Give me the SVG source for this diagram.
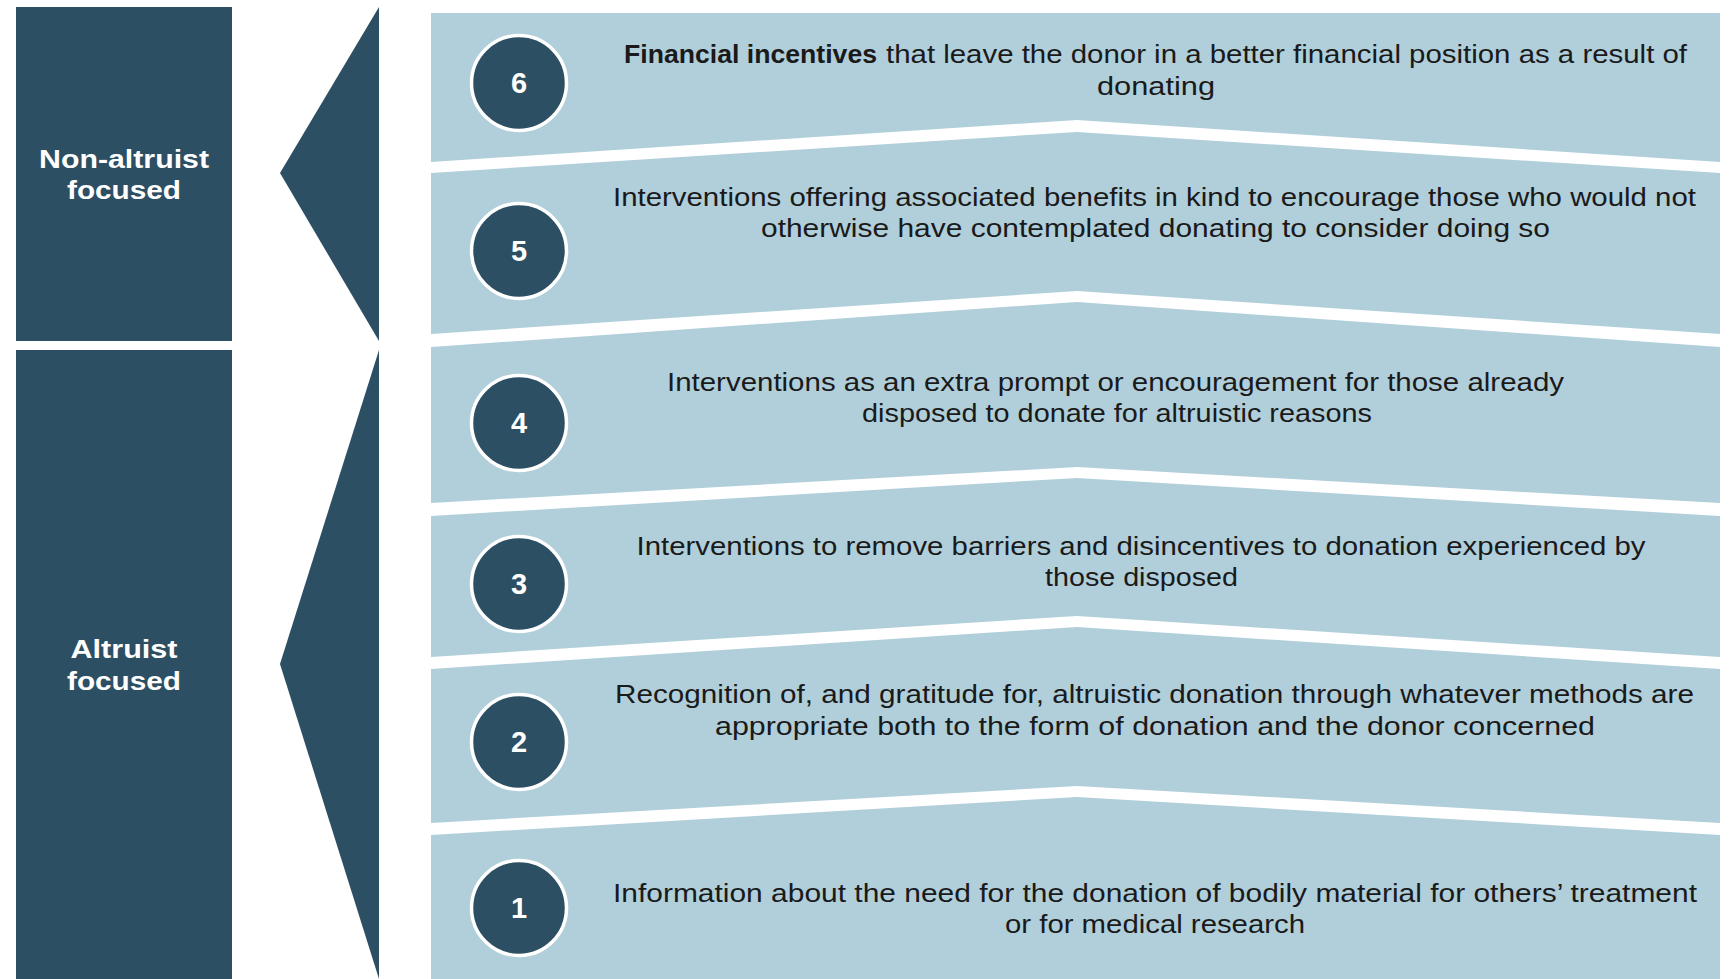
<svg xmlns="http://www.w3.org/2000/svg" width="1732" height="979" viewBox="0 0 1732 979">
<style>
.dark{fill:#2c4f64}
.band{fill:#b0cfdb}
.lbl{font-family:"Liberation Sans",Arial,sans-serif;font-weight:bold;font-size:26px;fill:#ffffff;text-anchor:middle}
.num{font-family:"Liberation Sans",Arial,sans-serif;font-weight:bold;font-size:29px;fill:#ffffff;text-anchor:middle}
.circ{fill:#2c4f64;stroke:#ffffff;stroke-width:3.5}
.txt{font-family:"Liberation Sans",Arial,sans-serif;font-size:25.5px;fill:#1a1a1a}
.mid{text-anchor:middle}
</style>
<rect width="1732" height="979" fill="#ffffff"/>
<g id="group-nonaltruist">
<rect class="dark" x="16" y="7" width="216" height="334"/>
<polygon class="dark" points="379,7 280,173 379,341"/>
<text class="lbl" x="124" y="168" textLength="170" lengthAdjust="spacingAndGlyphs">Non-altruist</text>
<text class="lbl" x="124" y="199" textLength="114" lengthAdjust="spacingAndGlyphs">focused</text>
</g>
<g id="group-altruist">
<rect class="dark" x="16" y="350" width="216" height="629"/>
<polygon class="dark" points="379,350 280,664 379,979"/>
<text class="lbl" x="124" y="658" textLength="107" lengthAdjust="spacingAndGlyphs">Altruist</text>
<text class="lbl" x="124" y="690" textLength="114" lengthAdjust="spacingAndGlyphs">focused</text>
</g>
<g id="level-6">
<polygon class="band" points="431,13 1720,13 1720,162 1077,120 431,162"/>
<circle class="circ" cx="519" cy="83" r="47.5"/>
<text class="num" x="519" y="93">6</text>
<text class="txt" x="624" y="63" font-weight="bold" textLength="253" lengthAdjust="spacingAndGlyphs">Financial incentives</text>
<text class="txt" x="886" y="63" textLength="801" lengthAdjust="spacingAndGlyphs">that leave the donor in a better financial position as a result of</text>
<text class="txt mid" x="1156" y="95" textLength="118" lengthAdjust="spacingAndGlyphs">donating</text>
</g>
<g id="level-5">
<polygon class="band" points="431,173 1077,132 1720,173 1720,334 1077,291 431,334"/>
<circle class="circ" cx="519" cy="251" r="47.5"/>
<text class="num" x="519" y="261">5</text>
<text class="txt mid" x="1154.5" y="206" textLength="1083" lengthAdjust="spacingAndGlyphs">Interventions offering associated benefits in kind to encourage those who would not</text>
<text class="txt mid" x="1155.5" y="237" textLength="789" lengthAdjust="spacingAndGlyphs">otherwise have contemplated donating to consider doing so</text>
</g>
<g id="level-4">
<polygon class="band" points="431,347 1077,302 1720,347 1720,503 1077,467 431,503"/>
<circle class="circ" cx="519" cy="423" r="47.5"/>
<text class="num" x="519" y="433">4</text>
<text class="txt mid" x="1115.5" y="391" textLength="897" lengthAdjust="spacingAndGlyphs">Interventions as an extra prompt or encouragement for those already</text>
<text class="txt mid" x="1117" y="422" textLength="510" lengthAdjust="spacingAndGlyphs">disposed to donate for altruistic reasons</text>
</g>
<g id="level-3">
<polygon class="band" points="431,516 1077,478 1720,516 1720,657 1077,616 431,657"/>
<circle class="circ" cx="519" cy="584" r="47.5"/>
<text class="num" x="519" y="594">3</text>
<text class="txt mid" x="1141" y="555" textLength="1009" lengthAdjust="spacingAndGlyphs">Interventions to remove barriers and disincentives to donation experienced by</text>
<text class="txt mid" x="1141.5" y="586" textLength="193" lengthAdjust="spacingAndGlyphs">those disposed</text>
</g>
<g id="level-2">
<polygon class="band" points="431,669 1077,627 1720,669 1720,823 1077,786 431,823"/>
<circle class="circ" cx="519" cy="742" r="47.5"/>
<text class="num" x="519" y="752">2</text>
<text class="txt mid" x="1154.5" y="703" textLength="1079" lengthAdjust="spacingAndGlyphs">Recognition of, and gratitude for, altruistic donation through whatever methods are</text>
<text class="txt mid" x="1155" y="735" textLength="880" lengthAdjust="spacingAndGlyphs">appropriate both to the form of donation and the donor concerned</text>
</g>
<g id="level-1">
<polygon class="band" points="431,835 1077,797 1720,835 1720,979 431,979"/>
<circle class="circ" cx="519" cy="908" r="47.5"/>
<text class="num" x="519" y="918">1</text>
<text class="txt mid" x="1155" y="902" textLength="1084" lengthAdjust="spacingAndGlyphs">Information about the need for the donation of bodily material for others’ treatment</text>
<text class="txt mid" x="1155" y="933" textLength="300" lengthAdjust="spacingAndGlyphs">or for medical research</text>
</g>
<g id="connectors"></g>
</svg>
